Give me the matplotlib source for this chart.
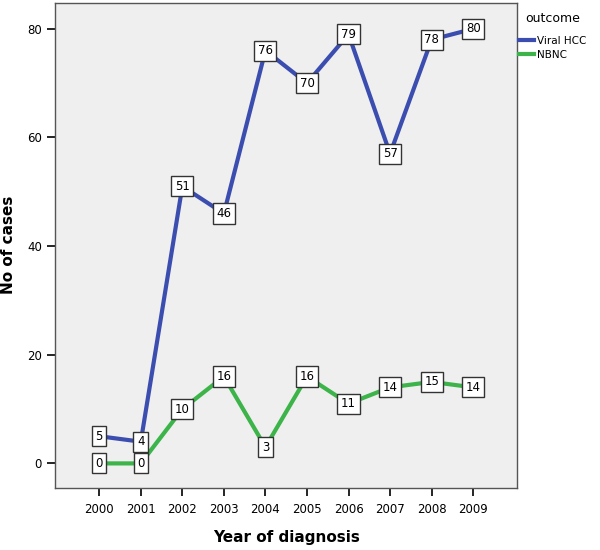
import matplotlib.pyplot as plt

# data
years = [2000, 2001, 2002, 2003, 2004, 2005, 2006, 2007, 2008, 2009]
viral_hcc = [5, 4, 51, 46, 76, 70, 79, 57, 78, 80]
nbnc = [0, 0, 10, 16, 3, 16, 11, 14, 15, 14]

blue = '#3b4eb0'
green = '#3cb44a'

fig = plt.figure(figsize=(6, 5.5), dpi=100)
ax = fig.add_axes([0.092, 0.113, 0.770, 0.882])
ax.set_facecolor('#efefef')

ax.plot(years, viral_hcc, color=blue, linewidth=3.0, label='Viral HCC', zorder=2)
ax.plot(years, nbnc, color=green, linewidth=3.0, label='NBNC', zorder=2)

# value boxes
box = dict(boxstyle='square,pad=0.3', facecolor='white', edgecolor='#333333', linewidth=1)
for series in (viral_hcc, nbnc):
    for x, v in zip(years, series):
        ax.text(x, v, str(v), ha='center', va='center', fontsize=8.5, bbox=box, zorder=3)

ax.set_xlim(1998.94, 2010.06)
ax.set_ylim(-4.5, 84.8)
ax.set_xticks(years)
ax.set_yticks([0, 20, 40, 60, 80])
ax.tick_params(axis='both', direction='out', length=6, width=1.2, labelsize=8.5, colors='black')
ax.tick_params(axis='x', pad=5)

for side in ['left', 'bottom', 'right', 'top']:
    ax.spines[side].set_color('#555555')
    ax.spines[side].set_linewidth(1)

ax.set_xlabel('Year of diagnosis', fontsize=11, fontweight='bold', labelpad=10)
ax.set_ylabel('No of cases', fontsize=11, fontweight='bold', labelpad=8)

leg = ax.legend(title='outcome', loc='upper left', bbox_to_anchor=(0.995, 0.99),
                frameon=False, fontsize=7.5, title_fontsize=9,
                handlelength=1.4, handletextpad=0.3, borderaxespad=0.2,
                borderpad=0.2, labelspacing=0.35)
leg._legend_box.sep = 8

plt.savefig('out.png', dpi=100)
